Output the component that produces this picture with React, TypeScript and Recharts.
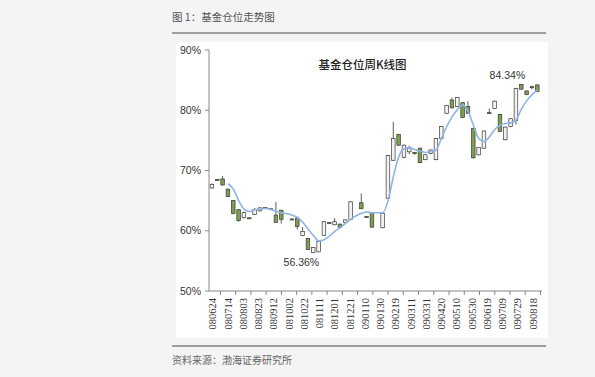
import React from 'react';
import { ComposedChart, Bar, Line, XAxis, YAxis, ReferenceDot } from 'recharts';

// Weekly candles (holiday weeks absent)
const weekDates = [
  '2008-06-23', '2008-06-30', '2008-07-07', '2008-07-14', '2008-07-21', '2008-07-28',
  '2008-08-04', '2008-08-11', '2008-08-18', '2008-08-25', '2008-09-01', '2008-09-08',
  '2008-09-15', '2008-09-22', '2008-10-06', '2008-10-13', '2008-10-20', '2008-10-27',
  '2008-11-03', '2008-11-10', '2008-11-17', '2008-11-24', '2008-12-01', '2008-12-08',
  '2008-12-15', '2008-12-22', '2009-01-05', '2009-01-12', '2009-01-19', '2009-02-02',
  '2009-02-09', '2009-02-16', '2009-02-23', '2009-03-02', '2009-03-09', '2009-03-16',
  '2009-03-23', '2009-03-30', '2009-04-06', '2009-04-13', '2009-04-20', '2009-04-27',
  '2009-05-04', '2009-05-11', '2009-05-18', '2009-05-25', '2009-06-01', '2009-06-08',
  '2009-06-15', '2009-06-22', '2009-06-29', '2009-07-06', '2009-07-13', '2009-07-20',
  '2009-07-27', '2009-08-03', '2009-08-10', '2009-08-17', '2009-08-24',
];
const opens = [
  67.1, 68.5, 68.6, 66.9, 65.0, 63.5, 62.2, 62.15, 62.7, 63.3, 63.85, 63.7,
  62.6, 63.4, 61.95, 62.1, 59.2, 58.7, 56.4, 56.5, 59.2, 61.35, 61.0, 61.1,
  61.35, 61.9, 64.65, 62.35, 63.0, 60.5, 65.4, 71.7, 76.0, 72.2, 73.1, 73.0,
  73.7, 71.8, 72.8, 71.8, 75.3, 79.5, 81.7, 80.6, 81.25, 80.6, 77.0, 72.6,
  73.7, 79.6, 80.3, 79.3, 75.1, 77.3, 78.3, 84.3, 83.2, 83.9, 84.2,
];
const highs = [
  67.9, 68.6, 69.1, 67.0, 65.1, 63.6, 63.2, 62.25, 63.8, 63.9, 63.95, 63.8,
  64.8, 63.5, 62.05, 62.2, 60.6, 58.8, 57.3, 58.3, 61.6, 61.45, 62.1, 61.2,
  61.9, 64.9, 66.2, 62.45, 63.1, 63.0, 72.6, 78.1, 76.1, 74.3, 74.1, 73.1,
  73.8, 72.7, 73.5, 75.4, 77.4, 80.9, 82.1, 82.2, 81.3, 81.5, 77.1, 73.9,
  76.6, 80.3, 81.6, 79.4, 77.3, 78.7, 83.7, 84.34, 83.3, 84.1, 84.3,
];
const lows = [
  67.0, 68.3, 67.5, 65.6, 62.7, 61.5, 62.0, 62.0, 62.6, 63.2, 63.7, 63.55,
  61.3, 61.2, 61.8, 60.2, 59.1, 56.8, 56.36, 56.4, 59.1, 61.2, 60.9, 60.5,
  61.3, 61.8, 63.6, 62.2, 60.5, 60.4, 65.3, 71.6, 74.1, 72.0, 72.7, 72.6,
  71.2, 71.7, 72.7, 71.7, 75.2, 79.4, 80.3, 80.5, 78.7, 79.4, 72.0, 72.5,
  73.6, 79.45, 80.2, 76.4, 75.0, 77.2, 77.6, 83.4, 82.5, 83.5, 83.0,
];
const closes = [
  67.7, 68.4, 67.6, 65.7, 62.9, 61.7, 63.0, 62.05, 63.5, 63.8, 63.75, 63.6,
  61.4, 61.9, 61.85, 60.7, 59.9, 56.9, 57.2, 58.2, 61.5, 61.25, 61.5, 60.6,
  61.8, 64.8, 63.65, 62.25, 60.6, 62.9, 72.5, 75.3, 74.2, 74.2, 73.7, 72.8,
  71.3, 72.6, 73.4, 75.3, 77.3, 80.8, 80.4, 82.1, 78.8, 79.5, 72.1, 73.85,
  76.55, 79.5, 81.5, 76.5, 77.2, 78.6, 83.6, 83.5, 82.6, 83.8, 83.1,
];
const movingAvg: (number | null)[] = [
  null, null, null, 67.8, 66.9, 65.0, 63.6, 63.2, 63.5, 63.6, 63.7, 63.55,
  63.25, 63.0, 62.6, 62.2, 61.4, 60.3, 59.2, 58.3, 58.5, 59.1, 59.9, 60.5,
  61.2, 61.9, 62.9, 63.1, 63.0, 63.0, 65.0, 69.0, 72.3, 73.6, 73.8, 73.5,
  73.2, 73.0, 73.1, 73.4, 75.3, 77.3, 78.9, 80.1, 80.9, 79.8, 77.5, 75.3,
  74.8, 75.6, 76.8, 77.5, 77.8, 77.9, 78.4, 80.2, 81.6, 82.6, 83.4,
];

const tickLabels = [
  '080624', '080714', '080803', '080823', '080912', '081002', '081022', '081111',
  '081201', '081221', '090110', '090130', '090219', '090311', '090331', '090420',
  '090510', '090530', '090619', '090709', '090729', '090818',
];
const yTicks = [50, 60, 70, 80, 90];
const lowNote = { date: '2008-11-03', value: 56.36, text: '56.36%' };
const highNote = { date: '2009-08-03', value: 84.34, text: '84.34%' };

const BASE = Date.UTC(2008, 5, 24);
const dayOf = (iso: string) => Math.round((Date.parse(iso + 'T00:00:00Z') - BASE) / 86400000);
const labelToIso = (s: string) => `20${s.slice(0, 2)}-${s.slice(2, 4)}-${s.slice(4, 6)}`;

const labelDays = tickLabels.map((s) => dayOf(labelToIso(s)));
const markDays = labelDays.map((d) => d + 10);
const allTicks = [...labelDays, ...markDays].sort((a, b) => a - b);
const labelByDay: Record<number, string> = {};
labelDays.forEach((d, i) => { labelByDay[d] = tickLabels[i]; });

const rows = weekDates.map((d, i) => ({
  day: dayOf(d),
  range: [lows[i], highs[i]],
  open: opens[i],
  close: closes[i],
  ma: movingAvg[i],
}));

const Candle = (props: any) => {
  const { x, y, width, height, payload } = props;
  if (!payload || height == null) return null;
  const [low, high] = payload.range;
  const k = height / (high - low);
  const cx = x + width / 2;
  const yO = y + (high - payload.open) * k;
  const yC = y + (high - payload.close) * k;
  const top = Math.min(yO, yC);
  const bh = Math.max(Math.abs(yO - yC), 1);
  const up = payload.close >= payload.open;
  return (
    <g>
      <line x1={cx} x2={cx} y1={y} y2={y + height} stroke="#4a4a4a" strokeWidth={0.9} />
      <rect
        x={cx - 1.8}
        y={top}
        width={3.6}
        height={bh}
        fill={up ? '#f2f2f2' : '#7b9f4c'}
        stroke="#3c3c3c"
        strokeWidth={0.7}
      />
    </g>
  );
};

const XTick = (props: any) => {
  const { x, y, payload } = props;
  const v = payload.value;
  const lab = labelByDay[v];
  if (lab === undefined) {
    return <line x1={x} x2={x} y1={y - 7} y2={y - 3} stroke="#888" strokeWidth={1} />;
  }
  return (
    <text
      x={x}
      y={y}
      transform={`rotate(-90, ${x}, ${y})`}
      textAnchor="end"
      dy="0.35em"
      fontFamily='"Liberation Serif", "Times New Roman", serif'
      fontSize={10.5}
      fill="#333"
    >
      {lab}
    </text>
  );
};

const noteLabel = (text: string, dx: number, dy: number) => (p: any) => {
  const vb = p.viewBox || {};
  const cx = (vb.x ?? 0) + (vb.width ?? 0) / 2;
  const cy = (vb.y ?? 0) + (vb.height ?? 0) / 2;
  return (
    <text
      x={cx + dx}
      y={cy + dy}
      textAnchor="middle"
      fontFamily='"Liberation Sans", Arial, sans-serif'
      fontSize={10.5}
      fill="#333"
    >
      {text}
    </text>
  );
};

export default function App() {
  return (
    <div
      style={{
        position: 'absolute',
        left: 0,
        top: 0,
        width: 595,
        height: 377,
        background: '#f4f4f4',
        overflow: 'hidden',
      }}
    >
      <div
        style={{
          position: 'absolute',
          left: 172,
          top: 9,
          fontFamily: '"Noto Sans CJK SC", sans-serif',
          fontSize: 10.5,
          color: '#555',
          lineHeight: '16px',
        }}
      >
        图 1：基金仓位走势图
      </div>
      <div style={{ position: 'absolute', left: 172, top: 32, width: 374, height: 2, background: '#9e9e9e' }} />
      <div style={{ position: 'absolute', left: 176, top: 42, width: 372, height: 296, background: '#ffffff' }} />
      <div
        style={{
          position: 'absolute',
          left: 300,
          top: 55,
          width: 125,
          textAlign: 'center',
          fontFamily: '"Noto Sans CJK SC", sans-serif',
          fontSize: 11.5,
          fontWeight: 500,
          color: '#222',
          lineHeight: '18px',
        }}
      >
        基金仓位周K线图
      </div>
      <div style={{ position: 'absolute', left: 0, top: 0 }}>
        <ComposedChart
          width={595}
          height={377}
          data={rows}
          margin={{ top: 50, right: 53, bottom: 46, left: 169 }}
        >
          <XAxis
            type="number"
            dataKey="day"
            domain={[-5, 432]}
            allowDataOverflow
            ticks={allTicks}
            interval={0}
            tick={<XTick />}
            tickLine={false}
            tickSize={4}
            tickMargin={3}
            axisLine={{ stroke: '#888' }}
            height={40}
          />
          <YAxis
            type="number"
            domain={[50, 90]}
            allowDataOverflow
            ticks={yTicks}
            interval={0}
            tickFormatter={(v: number) => `${v}%`}
            tick={{ fontFamily: '"Liberation Sans", Arial, sans-serif', fontSize: 10.5, fill: '#333' }}
            tickSize={4}
            tickMargin={4}
            tickLine={{ stroke: '#888' }}
            axisLine={{ stroke: '#888' }}
            width={40}
          />
          <Bar dataKey="range" shape={<Candle />} isAnimationActive={false} />
          <Line
            type="monotone"
            dataKey="ma"
            stroke="#8eb4e3"
            strokeWidth={1.6}
            dot={false}
            connectNulls
            isAnimationActive={false}
          />
          <ReferenceDot
            x={dayOf(lowNote.date)}
            y={lowNote.value}
            r={1}
            fill="none"
            stroke="none"
            label={noteLabel(lowNote.text, -12, 13)}
          />
          <ReferenceDot
            x={dayOf(highNote.date)}
            y={highNote.value}
            r={1}
            fill="none"
            stroke="none"
            label={noteLabel(highNote.text, -14, -5)}
          />
        </ComposedChart>
      </div>
      <div style={{ position: 'absolute', left: 172, top: 345, width: 374, height: 2, background: '#9e9e9e' }} />
      <div
        style={{
          position: 'absolute',
          left: 172,
          top: 352,
          fontFamily: '"Noto Sans CJK SC", sans-serif',
          fontSize: 10,
          color: '#666',
          lineHeight: '16px',
        }}
      >
        资料来源：渤海证券研究所
      </div>
    </div>
  );
}
